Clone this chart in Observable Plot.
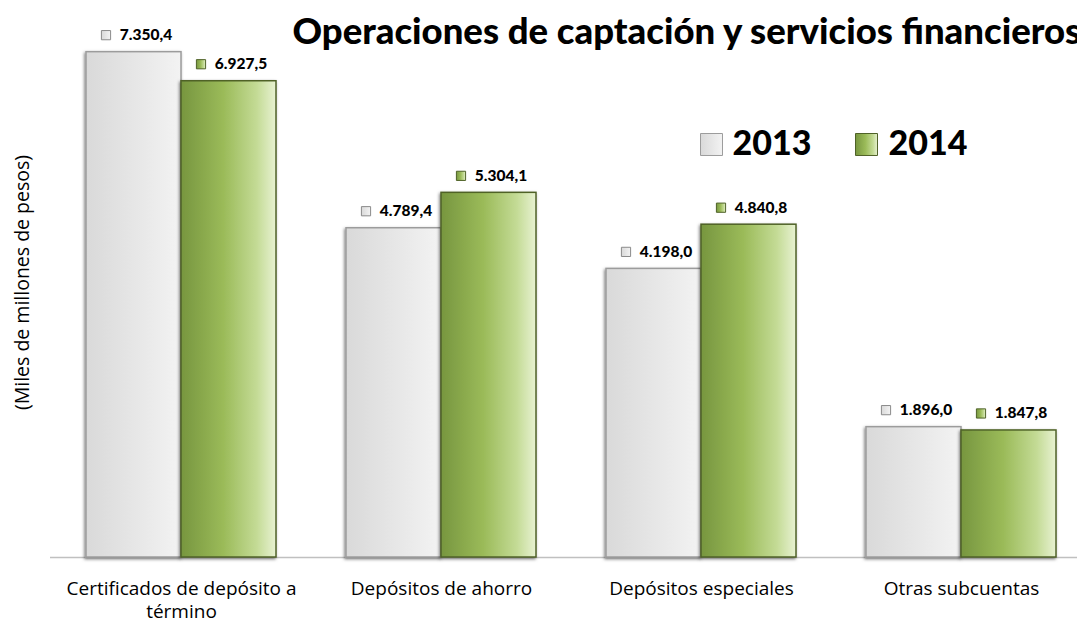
<!DOCTYPE html>
<html>
<head>
<meta charset="utf-8">
<script src="https://cdn.jsdelivr.net/npm/d3@7"></script>
<script src="https://cdn.jsdelivr.net/npm/@observablehq/plot@0.6"></script>
<style>
  html, body { margin: 0; padding: 0; background: #fff; }
  #chart { width: 1077px; height: 620px; overflow: hidden; }
</style>
</head>
<body>
<div id="chart"></div>
<script>
const categories = ["Certificados de depósito a término", "Depósitos de ahorro", "Depósitos especiales", "Otras subcuentas"];
const tickLabels = ["Certificados de depósito a\ntérmino", "Depósitos de ahorro", "Depósitos especiales", "Otras subcuentas"];
const years = ["2013", "2014"];
const values2013 = [7350.4, 4789.4, 4198.0, 1896.0];
const values2014 = [6927.5, 5304.1, 4840.8, 1847.8];
const title = "Operaciones de captación y servicios financieros";
const yLabel = "(Miles de millones de pesos)";

const fmt = d3.formatLocale({decimal: ",", thousands: ".", grouping: [3], currency: ["", ""]}).format(",.1f");

const d2013 = categories.map((c, i) => ({cat: c, value: values2013[i], tick: tickLabels[i]}));
const d2014 = categories.map((c, i) => ({cat: c, value: values2014[i]}));

const defs = () => {
  const ns = "http://www.w3.org/2000/svg";
  const g = document.createElementNS(ns, "defs");
  g.innerHTML = `
    <linearGradient id="gGray" x1="0" x2="1" y1="0" y2="0">
      <stop offset="0%" stop-color="#d9d9d9"/>
      <stop offset="100%" stop-color="#f3f3f3"/>
    </linearGradient>
    <linearGradient id="gGreen" x1="0" x2="1" y1="0" y2="0">
      <stop offset="0%" stop-color="#77963f"/>
      <stop offset="45%" stop-color="#9bbb59"/>
      <stop offset="80%" stop-color="#c4db96"/>
      <stop offset="100%" stop-color="#e8f2d2"/>
    </linearGradient>
    <filter id="shadow" x="-10%" y="-10%" width="130%" height="130%">
      <feDropShadow dx="-1" dy="1.5" stdDeviation="1.8" flood-color="#000" flood-opacity="0.5"/>
    </filter>`;
  return g;
};

const bw = 190; // band width in px (from x scale padding)
const font = "Lato, 'Open Sans', sans-serif";

const chart = Plot.plot({
  width: 1077,
  height: 620,
  marginLeft: 50,
  marginRight: 0,
  marginTop: 7,
  marginBottom: 63,
  style: {fontFamily: font, background: "#fff", overflow: "visible"},
  x: {domain: categories, paddingInner: 0.269, paddingOuter: 0.1095, align: 0.63, axis: null},
  y: {domain: [0, 8000], axis: null},
  marks: [
    defs,
    Plot.ruleY([0], {stroke: "#c0c0c0", strokeWidth: 1.5}),
    Plot.barY(d2013, {x: "cat", y: "value", insetRight: bw / 2, fill: "url(#gGray)", stroke: "#9c9c9c", strokeWidth: 1.5}),
    Plot.barY(d2014, {x: "cat", y: "value", insetLeft: bw / 2, fill: "url(#gGreen)", stroke: "#4f6228", strokeWidth: 1.5}),
    // value labels
    Plot.dot(d2013, {x: "cat", y: "value", dx: -bw / 4 - 28, dy: -17, symbol: "square", r: 5.2, fill: "url(#gGray)", stroke: "#8a8a8a", strokeWidth: 1}),
    Plot.text(d2013, {x: "cat", y: "value", dx: -bw / 4 + 12, dy: -17, text: d => fmt(d.value), fontWeight: 900, fontSize: 15.5, fill: "#000"}),
    Plot.dot(d2014, {x: "cat", y: "value", dx: bw / 4 - 28, dy: -17, symbol: "square", r: 5.2, fill: "url(#gGreen)", stroke: "#4f6228", strokeWidth: 1}),
    Plot.text(d2014, {x: "cat", y: "value", dx: bw / 4 + 12, dy: -17, text: d => fmt(d.value), fontWeight: 900, fontSize: 15.5, fill: "#000"}),
    // category labels
    Plot.text(d2013, {x: "cat", frameAnchor: "bottom", text: "tick", dy: 21, lineAnchor: "top", lineHeight: 1.22, fontSize: 19, fill: "#000", fontFamily: "'Open Sans', sans-serif"}),
    // y label
    Plot.text([yLabel], {frameAnchor: "left", dx: -28, rotate: -90, textAnchor: "middle", fontSize: 19.5, fill: "#000", fontFamily: "'Open Sans', sans-serif"}),
    // title
    Plot.text([title], {frameAnchor: "top-left", dx: 242, dy: 11, textAnchor: "start", lineAnchor: "top", fontSize: 36.5, fontWeight: 900, fill: "#000"}),
    // legend
    Plot.dot(years.slice(0, 1), {frameAnchor: "top-left", dx: 661, dy: 137, symbol: "square", r: 12.4, fill: "url(#gGray)", stroke: "#9c9c9c", strokeWidth: 1}),
    Plot.text(years.slice(0, 1), {frameAnchor: "top-left", dx: 682, dy: 137, textAnchor: "start", lineAnchor: "middle", fontSize: 34, fontWeight: 900, fill: "#000"}),
    Plot.dot(years.slice(1, 2), {frameAnchor: "top-left", dx: 816, dy: 137, symbol: "square", r: 12.4, fill: "url(#gGreen)", stroke: "#4f6228", strokeWidth: 1}),
    Plot.text(years.slice(1, 2), {frameAnchor: "top-left", dx: 838, dy: 137, textAnchor: "start", lineAnchor: "middle", fontSize: 34, fontWeight: 900, fill: "#000"})
  ]
});

d3.select(chart).selectAll("g[aria-label='bar']").attr("filter", "url(#shadow)");
document.getElementById("chart").appendChild(chart);
</script>
</body>
</html>
